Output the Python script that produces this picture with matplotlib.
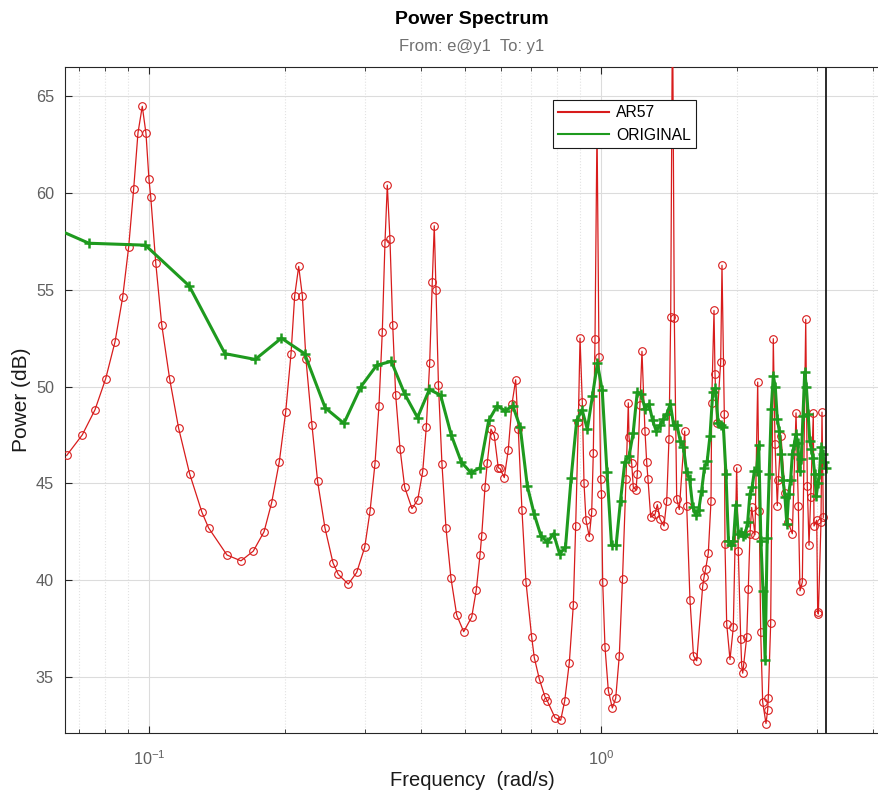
import numpy as np
import matplotlib
matplotlib.use('Agg')
import matplotlib.pyplot as plt
from matplotlib.lines import Line2D
from matplotlib.ticker import LogLocator, FuncFormatter, NullFormatter

plt.rcParams['font.family'] = ['Liberation Sans', 'DejaVu Sans']
plt.rcParams['mathtext.fontset'] = 'custom'
plt.rcParams['mathtext.rm'] = 'Liberation Sans'
plt.rcParams['mathtext.it'] = 'Liberation Sans:italic'

# AR57 model spectrum (frequency in rad/s, power in dB)
ar_freq = [0.06575, 0.07118, 0.07596, 0.08020, 0.08410, 0.08745, 0.09017, 0.09250, 0.09456, 0.09665,
           0.09849, 0.1000, 0.1009, 0.1035, 0.1067, 0.1111, 0.1163, 0.1230, 0.1310, 0.1355,
           0.1488, 0.1598, 0.1701, 0.1797, 0.1868, 0.1942, 0.2006, 0.2062, 0.2101, 0.2144,
           0.2184, 0.2225, 0.2294, 0.2361, 0.2451, 0.2553, 0.2623, 0.2760, 0.2881, 0.3001,
           0.3083, 0.3162, 0.3227, 0.3282, 0.3327, 0.3367, 0.3413, 0.3461, 0.3514, 0.3592,
           0.3679, 0.3818, 0.3931, 0.4032, 0.4107, 0.4178, 0.4234, 0.4277, 0.4315, 0.4369,
           0.4448, 0.4540, 0.4657, 0.4795, 0.4969, 0.5176, 0.5298, 0.5399, 0.5446, 0.5538,
           0.5603, 0.5709, 0.5806, 0.5926, 0.5977, 0.6110, 0.6235, 0.6355, 0.6475, 0.6561,
           0.6686, 0.6824, 0.7026, 0.7119, 0.7303, 0.7518, 0.7607, 0.7911, 0.8144, 0.8312,
           0.8510, 0.8684, 0.8790, 0.8909, 0.8987, 0.9091, 0.9171, 0.9264, 0.9421, 0.9537,
           0.9616, 0.9699, 0.9799, 0.9899, 0.9985, 1.0025, 1.0087, 1.0205, 1.0380, 1.0593,
           1.0778, 1.0977, 1.1158, 1.1358, 1.1493, 1.1533, 1.1691, 1.1789, 1.1951, 1.2031,
           1.2197, 1.2321, 1.2509, 1.2620, 1.2705, 1.2882, 1.3167, 1.3323, 1.3505, 1.3785,
           1.3976, 1.4138, 1.4262, 1.4394, 1.4527, 1.4706, 1.4901, 1.5317, 1.5473, 1.5735,
           1.6018, 1.6283, 1.6788, 1.6900, 1.7046, 1.7274, 1.7514, 1.7575, 1.7783, 1.7874,
           1.8030, 1.8398, 1.8521, 1.8740, 1.8805, 1.8970, 1.9292, 1.9619, 1.9960, 2.0126,
           2.0373, 2.0477, 2.0582, 2.1007, 2.1177, 2.1360, 2.1544, 2.1911, 2.2215, 2.2395,
           2.2556, 2.2786, 2.3174, 2.3376, 2.3446, 2.3734, 2.4053, 2.4266, 2.4547, 2.4675,
           2.5013, 2.5530, 2.5928, 2.6501, 2.7005, 2.7324, 2.7560, 2.7885, 2.8374, 2.8604,
           2.8852, 2.9099, 2.9490, 2.9593, 3.0005, 3.0157, 3.0254, 3.0668, 3.0824, 3.1030]
ar_power = [46.44, 47.5, 48.8, 50.4, 52.3, 54.6, 57.2, 60.2, 63.1, 64.47,
            63.07, 60.7, 59.8, 56.4, 53.2, 50.4, 47.85, 45.5, 43.5, 42.7,
            41.3, 41.0, 41.5, 42.5, 44.0, 46.1, 48.66, 51.7, 54.7, 56.2,
            54.7, 51.4, 48.0, 45.1, 42.7, 40.9, 40.3, 39.8, 40.4, 41.7,
            43.55, 46.0, 49.0, 52.8, 57.4, 60.4, 57.6, 53.2, 49.55, 46.8,
            44.8, 43.7, 44.15, 45.6, 47.9, 51.2, 55.4, 58.3, 55.0, 50.1,
            46.0, 42.7, 40.1, 38.2, 37.34, 38.1, 39.5, 41.3, 42.3, 44.8,
            46.06, 47.8, 47.47, 45.8, 45.77, 45.3, 46.73, 49.1, 50.35, 47.8,
            43.6, 39.9, 37.05, 36.0, 34.9, 33.98, 33.77, 32.9, 32.77, 33.77,
            35.75, 38.7, 42.8, 48.16, 52.5, 49.2, 45.0, 43.1, 42.25, 43.5,
            46.58, 52.44, 63.5, 51.5, 45.2, 44.46, 39.9, 36.56, 34.3, 33.4,
            33.9, 36.1, 40.06, 45.23, 49.16, 47.4, 46.04, 44.8, 44.66, 45.5,
            49.06, 51.82, 47.73, 46.1, 45.2, 43.25, 43.4, 43.9, 43.16, 42.8,
            44.1, 47.3, 53.6, 70.0, 53.56, 44.2, 43.65, 47.7, 43.85, 38.98,
            36.1, 35.84, 39.7, 40.15, 40.6, 41.4, 44.1, 49.16, 53.93, 50.66,
            48.1, 51.26, 56.26, 48.6, 41.87, 37.74, 35.9, 37.56, 45.8, 41.5,
            36.96, 35.6, 35.2, 37.05, 39.55, 42.4, 43.76, 42.35, 50.23, 43.56,
            37.35, 33.7, 32.6, 33.3, 33.94, 37.77, 52.47, 47.04, 43.85, 45.15,
            47.47, 44.5, 43.0, 42.4, 48.64, 43.85, 39.45, 39.9, 53.47, 44.89,
            41.8, 44.28, 48.63, 42.8, 43.1, 38.34, 38.25, 43.0, 48.68, 43.25]

# ORIGINAL spectrum: estimated on the grid k*pi/128, k = 2..128
orig_freq = np.arange(2, 129) * np.pi / 128
orig_power = [59.2, 57.4, 57.3, 55.2, 51.7, 51.4, 52.5, 51.7, 48.9, 48.1,
              50.0, 51.1, 51.3, 49.6, 48.4, 49.85, 49.55, 47.5, 46.1, 45.55,
              45.8, 48.25, 49.0, 48.75, 49.0, 47.9, 44.85, 43.4, 42.3, 41.96,
              42.4, 41.35, 41.7, 45.3, 48.25, 48.8, 47.8, 49.5, 51.2, 49.8,
              45.6, 41.8, 41.8, 44.1, 46.1, 46.4, 47.6, 49.7, 49.6, 48.85,
              49.1, 48.25, 47.7, 48.0, 48.3, 48.6, 49.1, 48.0, 48.0, 47.2,
              46.9, 45.6, 45.2, 43.8, 43.35, 43.6, 44.6, 45.8, 46.18, 47.47,
              49.7, 49.9, 48.1, 48.0, 47.9, 45.5, 42.0, 41.8, 42.0, 43.9,
              42.4, 42.5, 42.3, 42.4, 43.0, 44.46, 44.8, 45.66, 45.66, 46.96,
              42.0, 39.45, 35.9, 42.2, 45.5, 48.85, 50.57, 49.97, 48.33, 47.73,
              46.5, 45.15, 44.28, 42.9, 44.46, 45.15, 46.5, 47.0, 47.54, 47.1,
              45.66, 46.27, 48.5, 50.75, 49.97, 48.6, 47.2, 46.78, 46.3, 45.5,
              44.37, 45.0, 45.5, 46.87, 46.5, 46.1, 45.8]

red = '#d81c1c'
green = '#1e9a1e'

W, H = 879, 796
fig = plt.figure(figsize=(W / 100, H / 100), dpi=100)
ax = fig.add_axes([65 / W, (H - 733) / H, (879 - 65) / W, (733 - 67) / H])

ax.plot(ar_freq, ar_power, '-o', color=red, lw=0.9, ms=5.5, mfc='none', mew=0.8, zorder=3)
ax.plot(orig_freq, orig_power, '-+', color=green, lw=2.2, ms=6.5, mew=1.8, zorder=4)
ax.axvline(np.pi, color='#1a1a1a', lw=1.3, zorder=5)

ax.set_xscale('log')
ax.set_xlim(0.0652, 4.121)
ax.set_ylim(32.11, 66.5)
ax.set_yticks([35, 40, 45, 50, 55, 60, 65])
ax.xaxis.set_major_locator(LogLocator(base=10))
ax.xaxis.set_minor_locator(LogLocator(base=10, subs=np.arange(2, 10)))
ax.xaxis.set_major_formatter(FuncFormatter(lambda v, p: r'$\mathregular{10^{%d}}$' % round(np.log10(v))))
ax.xaxis.set_minor_formatter(NullFormatter())

ax.tick_params(which='both', direction='in', top=True, right=False,
               colors='#262626', labelcolor='#5f5f5f', labelsize=11.7)
ax.tick_params(which='major', length=5, width=0.8)
ax.tick_params(which='minor', length=3, width=0.6)
ax.tick_params(axis='x', pad=12)
ax.tick_params(axis='y', pad=8)

ax.set_axisbelow(True)
ax.grid(which='major', color='#dcdcdc', lw=0.8)
ax.xaxis.grid(which='minor', color='#e2e2e2', ls=':', lw=0.8)

ax.spines['right'].set_visible(False)
for s in ['left', 'top', 'bottom']:
    ax.spines[s].set_color('#262626')
    ax.spines[s].set_linewidth(0.8)

handles = [Line2D([], [], color=red, lw=1.5), Line2D([], [], color=green, lw=1.5)]
leg = ax.legend(handles, ['AR57', 'ORIGINAL'], loc='upper left',
                bbox_to_anchor=((553 - 65) / 814, (733 - 100) / 666), borderaxespad=0,
                fancybox=False, framealpha=1, edgecolor='#1a1a1a', fontsize=11.3,
                handlelength=3.2, handletextpad=0.45, borderpad=0.35, labelspacing=0.45)
leg.get_frame().set_linewidth(0.8)
leg.set_zorder(6)

fig.text(472 / W, 1 - 20 / H, 'Power Spectrum', ha='center', va='center',
         fontsize=14, fontweight='bold', color='black')
fig.text(472 / W, 1 - 46 / H, 'From: e@y1  To: y1', ha='center', va='center',
         fontsize=12, color='#707070')
fig.text(472 / W, 1 - 780 / H, 'Frequency  (rad/s)', ha='center', va='center',
         fontsize=14.5, color='#1a1a1a')
fig.text(22 / W, 1 - 400 / H, 'Power (dB)', ha='center', va='center', rotation=90,
         fontsize=15, color='#1a1a1a')

fig.savefig('out.png', dpi=100)
